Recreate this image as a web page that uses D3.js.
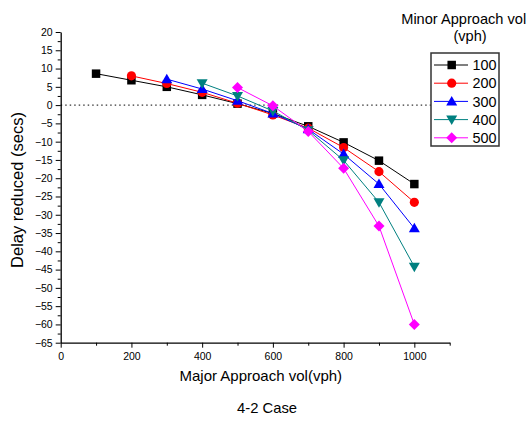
<!DOCTYPE html>
<html><head><meta charset="utf-8">
<script src="https://cdn.jsdelivr.net/npm/d3@7"></script>
<style>body{margin:0;background:#fff}svg{display:block}text{font-family:"Liberation Sans",Arial,sans-serif}</style>
</head><body>
<svg id="c" width="532" height="421"></svg>
<script>
const seriesNames = ["100","200","300","400","500"];
const xs100 = [100,200,300,400,500,600,700,800,900,1000];
const v100 = [8.6,6.8,5.0,2.8,0.4,-2.3,-5.8,-10.2,-15.2,-21.6];
const xs200 = [200,300,400,500,600,700,800,900,1000];
const v200 = [8.0,5.9,3.5,0.5,-2.7,-6.3,-11.6,-18.2,-26.6];
const xs300 = [300,400,500,600,700,800,900,1000];
const v300 = [7.1,4.4,1.2,-2.3,-6.6,-13.4,-21.6,-33.7];
const xs400 = [400,500,600,700,800,900,1000];
const v400 = [6.0,2.5,-1.6,-6.9,-15.1,-26.6,-44.2];
const xs500 = [500,600,700,800,900,1000];
const v500 = [4.8,-0.2,-7.2,-17.3,-33.1,-60.0];
const colors = ["#000000","#ff0000","#0000ff","#008080","#ff00ff"];
const xTicks = [0,200,400,600,800,1000];
const yTicks = d3.range(-65,21,5);

const series = [
  {name:seriesNames[0], xs:xs100, ys:v100, color:colors[0], sym:"square"},
  {name:seriesNames[1], xs:xs200, ys:v200, color:colors[1], sym:"circle"},
  {name:seriesNames[2], xs:xs300, ys:v300, color:colors[2], sym:"up"},
  {name:seriesNames[3], xs:xs400, ys:v400, color:colors[3], sym:"down"},
  {name:seriesNames[4], xs:xs500, ys:v500, color:colors[4], sym:"diamond"}
];

const svg = d3.select("#c");
const x = d3.scaleLinear().domain([0,1100]).range([60.7,449.7]);
const y = d3.scaleLinear().domain([-65,20]).range([342.7,32]);

// zero dotted line
svg.append("line").attr("x1",x(0)).attr("x2",x(1100)).attr("y1",y(0)).attr("y2",y(0))
  .attr("stroke","#000").attr("stroke-width",1).attr("stroke-dasharray","1.5,3");

// axes
const xAxis = d3.axisBottom(x).tickValues(xTicks).tickSize(5).tickSizeOuter(0).tickFormat(d3.format("d"));
const gx = svg.append("g").attr("transform",`translate(0,${y(-65)})`).call(xAxis);
gx.selectAll("text").attr("font-size",10.5).attr("y",10).attr("fill","#000");
gx.select(".domain").attr("stroke-width",1.3);
svg.append("g").attr("transform",`translate(0,${y(-65)})`)
  .call(d3.axisBottom(x).tickValues(d3.range(100,1101,200)).tickSize(3).tickSizeOuter(0).tickFormat(""))
  .select(".domain").remove();

const yAxis = d3.axisLeft(y).tickValues(yTicks).tickSize(5).tickSizeOuter(0).tickFormat(d3.format("d"));
const gy = svg.append("g").attr("transform",`translate(${x(0)},0)`).call(yAxis);
gy.selectAll("text").attr("font-size",10.5).attr("fill","#000");
gy.select(".domain").attr("stroke-width",1.3);
svg.append("g").attr("transform",`translate(${x(0)},0)`)
  .call(d3.axisLeft(y).tickValues(d3.range(-62.5,20,5)).tickSize(3).tickSizeOuter(0).tickFormat(""))
  .select(".domain").remove();
svg.selectAll(".tick line").attr("stroke","#000");

// titles
svg.append("text").attr("x",260.8).attr("y",380.7).attr("text-anchor","middle").attr("font-size",15).text("Major Approach vol(vph)");
svg.append("text").attr("transform",`translate(22.5,190) rotate(-90)`).attr("text-anchor","middle").attr("font-size",16.5).text("Delay reduced (secs)");
svg.append("text").attr("x",267).attr("y",412.5).attr("text-anchor","middle").attr("font-size",14.8).text("4-2 Case");

function symPath(sym){
  switch(sym){
    case "square": return d3.symbol(d3.symbolSquare, 72)();
    case "circle": return d3.symbol(d3.symbolCircle, 66)();
    case "up": return "M0,-5.5L5.5,4L-5.5,4Z";
    case "down": return "M0,5.5L5.5,-4L-5.5,-4Z";
    case "diamond": return "M0,-5.5L5.5,0L0,5.5L-5.5,0Z";
  }
}

const line = d3.line().x(d=>x(d[0])).y(d=>y(d[1]));
series.forEach(s=>{
  const pts = s.xs.map((v,i)=>[v,s.ys[i]]);
  svg.append("path").attr("d",line(pts)).attr("fill","none").attr("stroke",s.color).attr("stroke-width",1);
  svg.append("g").selectAll("path").data(pts).join("path")
    .attr("transform",d=>`translate(${x(d[0])},${y(d[1])})`)
    .attr("d",symPath(s.sym)).attr("fill",s.color);
});

// legend
svg.append("text").attr("x",463.7).attr("y",24).attr("text-anchor","middle").attr("font-size",14.6).text("Minor Approach vol");
svg.append("text").attr("x",470).attr("y",40.7).attr("text-anchor","middle").attr("font-size",14.6).text("(vph)");
svg.append("rect").attr("x",431).attr("y",53).attr("width",68).attr("height",93)
  .attr("fill","#fff").attr("stroke","#333").attr("stroke-width",1.5);
series.forEach((s,i)=>{
  const ly = 65 + i*18.2;
  svg.append("line").attr("x1",434).attr("x2",468).attr("y1",ly).attr("y2",ly).attr("stroke",s.color).attr("stroke-width",1);
  svg.append("path").attr("transform",`translate(451.7,${ly})`).attr("d",symPath(s.sym)).attr("fill",s.color);
  svg.append("text").attr("x",472.5).attr("y",ly).attr("dy","0.36em").attr("font-size",14.4).text(s.name);
});
</script>
</body></html>
